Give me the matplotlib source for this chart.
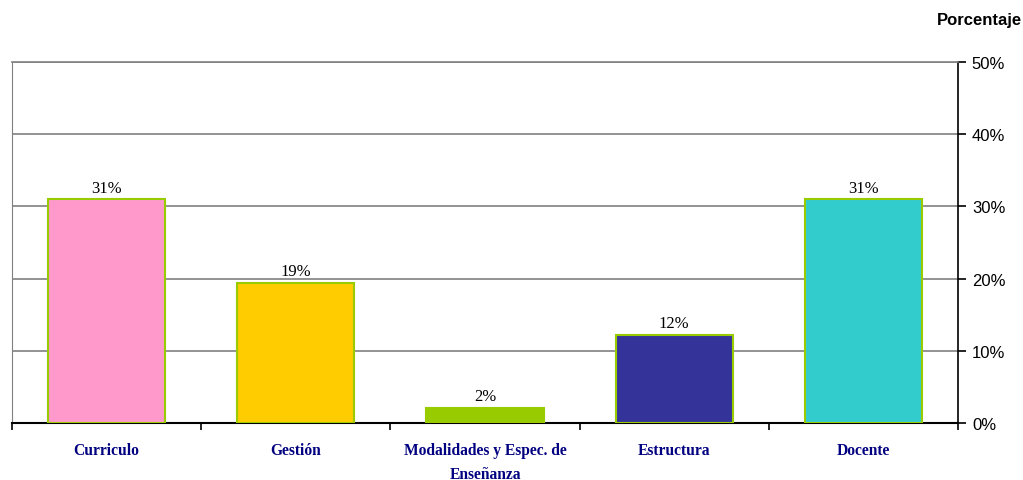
import matplotlib.pyplot as plt
import numpy as np

categories = ['Curriculo', 'Gestión', 'Modalidades y Espec. de\nEnseñanza', 'Estructura', 'Docente']
values = [31.0, 19.4, 2.1, 12.2, 31.0]
value_labels = ['31%', '19%', '2%', '12%', '31%']
bar_colors = ['#FF99CC', '#FFCC00', '#99CC00', '#333399', '#33CCCC']
y_ticks = [0, 10, 20, 30, 40, 50]

fig = plt.figure(figsize=(10.23, 4.81), dpi=100)
ax = fig.add_axes([12 / 1023, 1 - 424 / 481, 946 / 1023, 361 / 481])

x = np.arange(len(categories))
bars = ax.bar(x, values, width=0.62, color=bar_colors, edgecolor='#99CC00', linewidth=1.5, zorder=3)

for xi, v, lab in zip(x, values, value_labels):
    ax.text(xi, v + 0.5, lab, ha='center', va='bottom', fontsize=12,
            family='Liberation Serif', color='black')

ax.set_xlim(-0.5, len(categories) - 0.5)
ax.set_ylim(0, 50)

# gridlines
for t in y_ticks[1:]:
    ax.axhline(t, color='#808080', linewidth=1.2, zorder=1)

ax.yaxis.tick_right()
ax.set_yticks(y_ticks)
ax.set_yticklabels([f'{t}%' for t in y_ticks], fontsize=12, family='Liberation Sans')
ax.tick_params(axis='y', direction='out', length=6, width=1.2, pad=4)

# category ticks at boundaries, labels at centres
ax.set_xticks(np.arange(len(categories) + 1) - 0.5)
ax.set_xticklabels([])
ax.tick_params(axis='x', direction='out', length=5, width=1.2)
for xi, name in zip(x, categories):
    ax.text(xi, -2.7, name, ha='center', va='top', fontsize=11.2, fontweight='bold',
            family='Liberation Serif', color='#000080', linespacing=1.6)

ax.spines['left'].set_color('#808080')
ax.spines['top'].set_color('#808080')
ax.spines['top'].set_linewidth(1.2)
ax.spines['right'].set_linewidth(1.2)
ax.spines['bottom'].set_linewidth(1.5)

fig.text(979 / 1023, 1 - 20 / 481, 'Porcentaje', ha='center', va='center', fontsize=12,
         fontweight='bold', family='Liberation Sans')

fig.savefig('out.png', dpi=100, facecolor='white')
